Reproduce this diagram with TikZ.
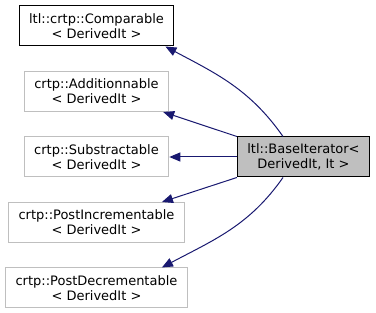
\documentclass[tikz,border=0pt]{standalone}
\usepackage{fontspec}
\setmainfont{DejaVu Sans}
\usetikzlibrary{arrows.meta}
\definecolor{edgeblue}{HTML}{191970}
\definecolor{grey75}{HTML}{BFBFBF}

\begin{document}
\begin{tikzpicture}[x=1pt, y=1pt, >={Triangle[length=11pt,width=9pt]}]
			\tikzstyle{box}=[
			draw=grey75,
			line width=1pt,
			rectangle,
			align=center,
			inner xsep=10pt,
			minimum height=40pt,
			font=\fontsize{13}{15}\selectfont]
			\tikzstyle{link}=[
			->,
			draw=edgeblue,
			line width=1pt]
			\useasboundingbox (0,0) rectangle (376,313);
			\node[box, draw=black, fill=grey75] (BI) at (303.5,156) {ltl::BaseIterator<\\ DerivedIt, It >};
			\node[box, left of=BI, node distance=207pt] (S) {crtp::Substractable\\< DerivedIt >};
			\node[box, above of=S, node distance=65.5pt] (A) {crtp::Additionnable\\< DerivedIt >};
			\node[box, draw=black, above of=A, node distance=65.5pt] (C) {ltl::crtp::Comparable\\< DerivedIt >};
			\node[box, below of=S, node distance=65.5pt] (PI) {crtp::PostIncrementable\\< DerivedIt >};
			\node[box, below of=PI, node distance=65.5pt] (PD) {crtp::PostDecrementable\\< DerivedIt >};
			%
			\draw [link] ([xshift=-20.5pt]BI.north) to [out=125, in=-28] ([xshift=-9pt]C.south east);
			\draw [link] (BI.north west) -- ([xshift=-6pt]A.south east);
			\draw [link] (BI.west) -- (S.east);
			\draw [link] (BI.south west) -- ([xshift=-23pt]PI.north east);
			\draw [link] ([xshift=-20.5pt]BI.south) to [out=-125, in=28] ([xshift=-26pt]PD.north east);
		\end{tikzpicture}
\end{document}
